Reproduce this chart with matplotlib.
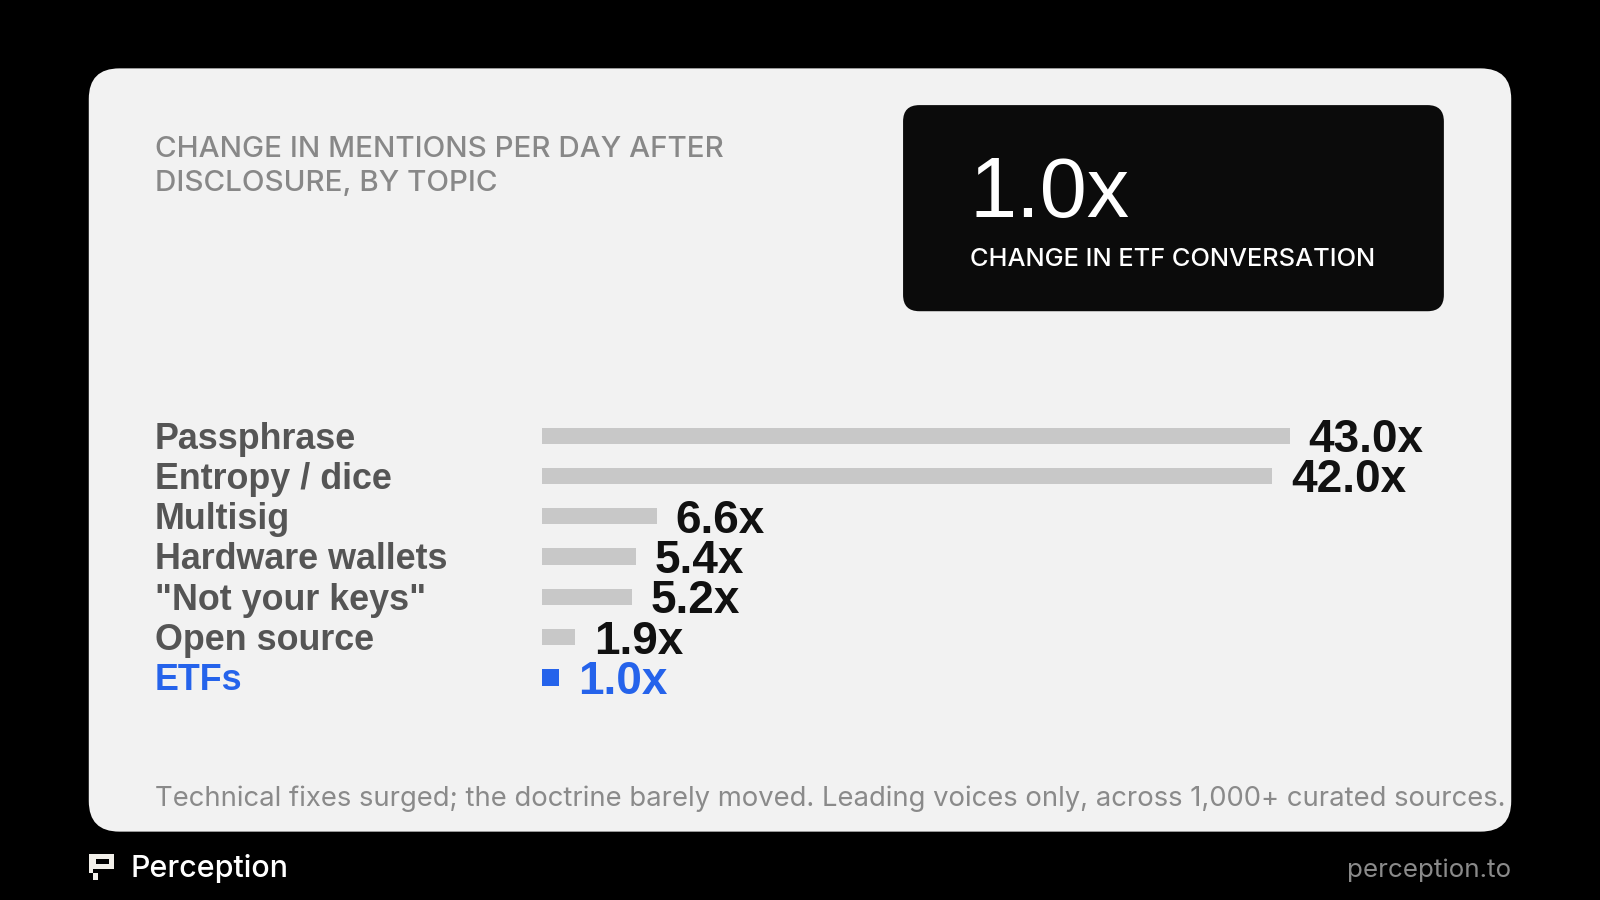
import matplotlib
matplotlib.use("Agg")
import matplotlib.pyplot as plt
from matplotlib.patches import FancyBboxPatch, Rectangle
from matplotlib import transforms

# ---- data ----
categories = ["Passphrase", "Entropy / dice", "Multisig", "Hardware wallets",
              "\"Not your keys\"", "Open source", "ETFs"]
values = [43.0, 42.0, 6.6, 5.4, 5.2, 1.9, 1.0]
value_labels = ["43.0x", "42.0x", "6.6x", "5.4x", "5.2x", "1.9x", "1.0x"]
highlight = "ETFs"
title_lines = ["CHANGE IN MENTIONS PER DAY AFTER", "DISCLOSURE, BY TOPIC"]
kpi_value = "1.0x"
kpi_label = "CHANGE IN ETF CONVERSATION"
footnote = ("Technical fixes surged; the doctrine barely moved. Leading voices only, "
            "across 1,000+ curated sources.")
brand = "Perception"
url = "perception.to"

FONT = "Liberation Sans"
ALT = "Inter"
plt.rcParams["font.family"] = [FONT, "DejaVu Sans"]

W, H = 1568.0, 882.0  # layout reference units
fig = plt.figure(figsize=(16, 9), dpi=100)
fig.patch.set_facecolor("black")

bg = fig.add_axes([0, 0, 1, 1])
bg.set_xlim(0, W)
bg.set_ylim(H, 0)
bg.axis("off")

# card
card = FancyBboxPatch((87, 67), 1481 - 87, 815 - 67,
                      boxstyle="round,pad=0,rounding_size=30",
                      fc="#f2f2f2", ec="none", zorder=0)
bg.add_patch(card)

# KPI box
kbox = FancyBboxPatch((885, 103), 1415 - 885, 305 - 103,
                      boxstyle="round,pad=0,rounding_size=16",
                      fc="#0b0b0b", ec="none", zorder=1)
bg.add_patch(kbox)
bg.text(950, 213, kpi_value, color="white", fontsize=61, ha="left",
        va="baseline", zorder=2)
bg.text(951, 261, kpi_label, color="white", fontsize=18.3, ha="left",
        va="baseline", zorder=2, family=[ALT, "DejaVu Sans"], fontweight="medium")

# title
bg.text(152, 154, title_lines[0], color="#888888", family=[ALT, "DejaVu Sans"],
        fontweight="medium", fontsize=21.3, ha="left", va="baseline")
bg.text(152, 187, title_lines[1], color="#888888", family=[ALT, "DejaVu Sans"],
        fontweight="medium", fontsize=21.3, ha="left", va="baseline")

# footnote
bg.text(152, 790, footnote, color="#8a8a8a", fontsize=19.75, ha="left",
        va="baseline", family=[ALT, "DejaVu Sans"])

# footer
bg.text(128, 859, brand, color="white", fontsize=21.9, ha="left",
        va="baseline", family=[ALT, "DejaVu Sans"], fontweight="medium")
bg.text(1481, 859, url, color="#8a8a8a", fontsize=18.7, ha="right",
        va="baseline", family=[ALT, "DejaVu Sans"])
# logo
logo_c = "#f2f0ea"
bg.add_patch(Rectangle((87, 837), 25, 15, fc=logo_c, ec="none"))
bg.add_patch(Rectangle((94.5, 842), 12, 5, fc="black", ec="none"))
bg.add_patch(Rectangle((87, 852), 4, 4, fc=logo_c, ec="none"))
bg.add_patch(Rectangle((91, 856), 5, 6, fc=logo_c, ec="none"))

# ---- bar chart ----
x0, x1 = 531.0, 1264.0
row0, step = 427.0, 39.5
n = len(categories)
ytop = row0 - step / 2
ybot = row0 + step * (n - 1) + step / 2
ax = fig.add_axes([x0 / W, 1 - ybot / H, (x1 - x0) / W, (ybot - ytop) / H])
ax.set_xlim(0, max(values))
ax.set_ylim(n - 0.5, -0.5)
ax.axis("off")
ax.patch.set_alpha(0)

blue = "#2563eb"
colors = [blue if c == highlight else "#c8c8c8" for c in categories]
ypos = list(range(n))
ax.barh(ypos, values, height=16 / step, color=colors, zorder=2)

lab_fs = 25.8
val_fs = 33
blend = transforms.blended_transform_factory(bg.transData, ax.transData)
for i, (c, v, vl) in enumerate(zip(categories, values, value_labels)):
    col = blue if c == highlight else "#555555"
    tr = transforms.offset_copy(blend, fig=fig, y=-0.716 * lab_fs / 2, units="points")
    bg.text(152, i, c, transform=tr, color=col, fontsize=lab_fs,
            fontweight="bold", ha="left", va="baseline")
    vcol = blue if c == highlight else "#111111"
    trv = transforms.offset_copy(ax.transData, fig=fig, x=13.5,
                                 y=-0.716 * val_fs / 2, units="points")
    ax.text(v, i, vl, transform=trv, color=vcol, fontsize=val_fs,
            fontweight="bold", ha="left", va="baseline", clip_on=False)

fig.savefig("out.png", dpi=100, facecolor="black")
